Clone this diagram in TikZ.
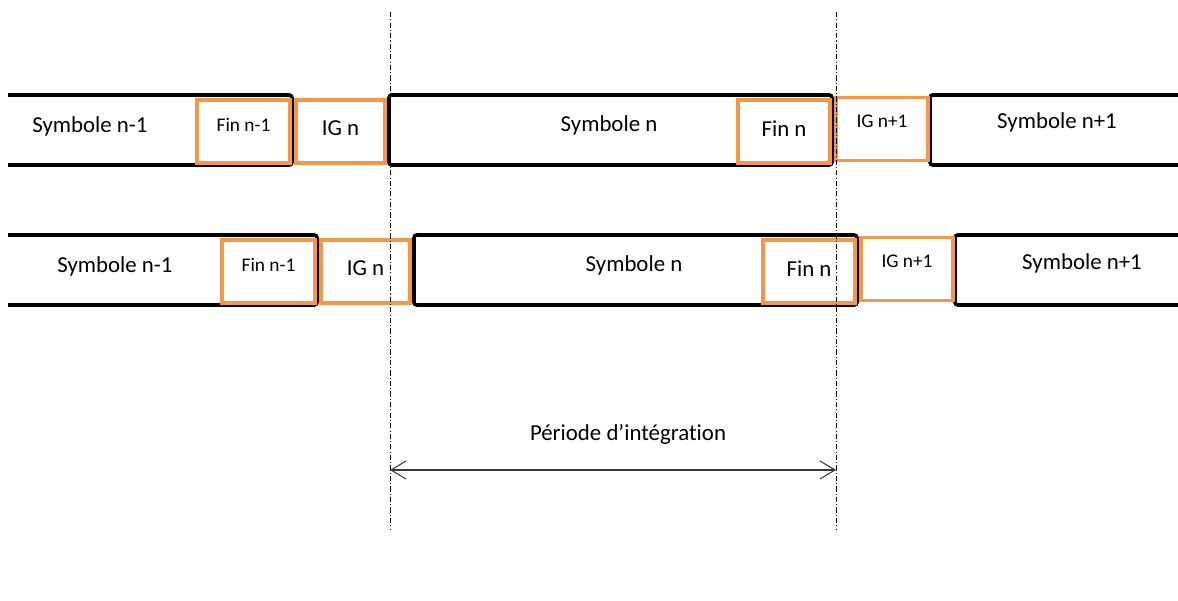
\documentclass[tikz,border=0pt]{standalone}
\usepackage{fontspec}
\setmainfont{Carlito}[Ligatures=NoCommon]
\usepackage{tikz}
\usetikzlibrary{arrows.meta}
\definecolor{igorange}{HTML}{F79646}
\definecolor{axisgrey}{HTML}{3A3A3A}

\begin{document}
\begin{tikzpicture}[
  x=0.02cm, y=-0.02cm,
  bar/.style={draw=black, line width=2pt, rounded corners=1.5pt},
  og/.style={rectangle, draw=igorange, line width=2pt, minimum height=1.26cm, inner sep=0pt, text height=7pt},
  lbl/.style={font=\fontsize{13}{15}\selectfont},
  sml/.style={font=\fontsize{11}{13}\selectfont},
  dd/.style={black, line width=0.5pt, dash pattern=on 3pt off 1.2pt on 0.6pt off 1.2pt}
]
\useasboundingbox (0,0) rectangle (1178,601);

% Row 1: symbol bars
\draw[bar] (8,95) -| (292,165) -- (8,165);
\draw[bar] (389,95) rectangle (832,165);
\draw[bar] (1178,95) -| (930,165) -- (1178,165);
% Row 1: end of symbol and guard intervals
\node[og, sml, minimum width=1.86cm, text depth=6.8pt] (f1a) at (243.5,131.5) {Fin n-1};
\node[og, lbl, minimum width=1.78cm, text height=8.4pt, text depth=4pt] (g1a) at (340.5,131.5) {IG n};
\node[og, lbl, minimum width=1.84cm, text height=8.4pt, text depth=2.8pt] (f1b) at (784,131.5) {Fin n};
\node[og, sml, minimum width=1.84cm, text depth=8.6pt] (g1b) at (882,129) {IG n+1};
\node[lbl] (s1a) at (90,126) {Symbole n-1};
\node[lbl] (s1b) at (609,125) {Symbole n};
\node[lbl] (s1c) at (1057,122) {Symbole n+1};

% Row 2: same frame, delayed
\draw[bar] (8,235) -| (317,305) -- (8,305);
\draw[bar] (414,235) rectangle (857,305);
\draw[bar] (1178,235) -| (955,305) -- (1178,305);
\node[og, sml, minimum width=1.86cm, text depth=6.8pt] (f2a) at (268.5,271.5) {Fin n-1};
\node[og, lbl, minimum width=1.78cm, text height=8.4pt, text depth=4pt] (g2a) at (365.5,271.5) {IG n};
\node[og, lbl, minimum width=1.84cm, text height=8.4pt, text depth=2.8pt] (f2b) at (809,271.5) {Fin n};
\node[og, sml, minimum width=1.84cm, text depth=8.6pt] (g2b) at (907,269) {IG n+1};
\node[lbl] (s2a) at (115,266) {Symbole n-1};
\node[lbl] (s2b) at (634,265) {Symbole n};
\node[lbl] (s2c) at (1082,263) {Symbole n+1};

% Window limits
\coordinate (t1) at (390,12);
\coordinate (b1) at (390,530);
\coordinate (t2) at (836,12);
\coordinate (b2) at (836,530);
\draw[dd] (t1) -- (b1);
\draw[dd] (t2) -- (b2);

% Integration window
\coordinate (a1) at (390,470);
\coordinate (a2) at (836,470);
\draw[axisgrey, line width=0.6pt, {Straight Barb[length=3mm,width=3.6mm]}-{Straight Barb[length=3mm,width=3.6mm]}] (a1) -- (a2);
\node[lbl] (per) at (628,434) {Période d’intégration};
\end{tikzpicture}
\end{document}
